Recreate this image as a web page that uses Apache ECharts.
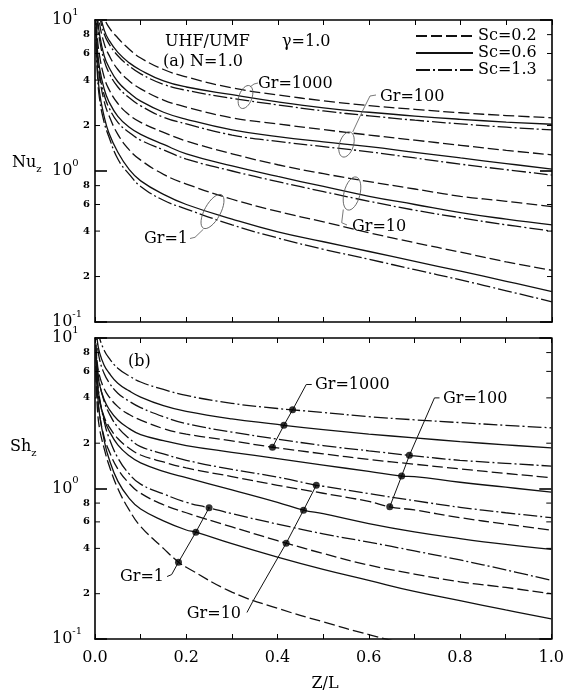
<!DOCTYPE html>
<html>
<head>
<meta charset="utf-8">
<script src="https://cdn.jsdelivr.net/npm/echarts@6/dist/echarts.min.js"></script>
<style>
  html, body { margin: 0; padding: 0; background: #fff; }
  #chart { width: 567px; height: 696px; }
</style>
</head>
<body>
<div id="chart"></div>
<script>
// axial position Z/L shared by every curve
const zl = [0.002, 0.005, 0.01, 0.02, 0.03, 0.05, 0.075, 0.1, 0.15, 0.2, 0.3, 0.4, 0.5, 0.6, 0.7, 0.8, 0.9, 1.0];

// (a) local Nusselt number
const nuGr1000Sc02 = [30, 19, 14, 10.5, 9.0, 7.6, 6.4, 5.6, 4.7, 4.2, 3.55, 3.19, 2.92, 2.71, 2.56, 2.43, 2.33, 2.25];
const nuGr1000Sc06 = [24, 16, 11.5, 8.6, 7.4, 6.1, 5.2, 4.65, 3.95, 3.6, 3.2, 2.87, 2.62, 2.45, 2.31, 2.2, 2.11, 2.04];
const nuGr1000Sc13 = [22, 15, 10.8, 8.1, 7.0, 5.8, 4.95, 4.4, 3.75, 3.42, 3.03, 2.74, 2.5, 2.32, 2.17, 2.05, 1.95, 1.87];
const nuGr100Sc02 = [19, 13, 9.5, 7.0, 5.9, 4.7, 3.95, 3.5, 2.95, 2.65, 2.25, 2.05, 1.88, 1.73, 1.6, 1.48, 1.37, 1.28];
const nuGr100Sc06 = [16, 11, 8.0, 5.8, 4.9, 3.9, 3.3, 2.9, 2.45, 2.2, 1.87, 1.69, 1.56, 1.45, 1.33, 1.22, 1.12, 1.03];
const nuGr100Sc13 = [15, 10, 7.4, 5.4, 4.5, 3.6, 3.05, 2.7, 2.27, 2.05, 1.73, 1.57, 1.45, 1.34, 1.22, 1.11, 1.02, 0.94];
const nuGr10Sc02 = [12, 7.8, 5.8, 4.2, 3.5, 2.8, 2.35, 2.1, 1.8, 1.58, 1.3, 1.1, 0.96, 0.85, 0.76, 0.68, 0.63, 0.58];
const nuGr10Sc06 = [10, 6.5, 4.8, 3.5, 2.9, 2.3, 1.95, 1.75, 1.5, 1.3, 1.08, 0.92, 0.79, 0.68, 0.6, 0.53, 0.48, 0.44];
const nuGr10Sc13 = [9, 6.0, 4.4, 3.2, 2.65, 2.1, 1.8, 1.6, 1.38, 1.2, 1.0, 0.85, 0.73, 0.63, 0.55, 0.49, 0.44, 0.40];
const nuGr1Sc02 = [9, 6.0, 4.2, 2.9, 2.35, 1.75, 1.38, 1.18, 0.95, 0.82, 0.65, 0.54, 0.46, 0.39, 0.335, 0.29, 0.25, 0.22];
const nuGr1Sc06 = [7.5, 5.0, 3.3, 2.3, 1.8, 1.33, 1.02, 0.86, 0.7, 0.6, 0.48, 0.395, 0.34, 0.293, 0.252, 0.217, 0.186, 0.159];
const nuGr1Sc13 = [7, 4.5, 3.0, 2.1, 1.7, 1.2, 0.95, 0.79, 0.64, 0.56, 0.44, 0.36, 0.303, 0.26, 0.222, 0.19, 0.161, 0.136];

// (b) local Sherwood number
const shGr1000Sc13 = [16, 12, 10, 8.3, 7.4, 6.3, 5.6, 5.1, 4.55, 4.15, 3.68, 3.4, 3.2, 3.0, 2.86, 2.74, 2.63, 2.53];
const shGr1000Sc06 = [13, 9.6, 8.0, 6.6, 5.9, 5.0, 4.45, 4.05, 3.55, 3.25, 2.9, 2.67, 2.46, 2.3, 2.17, 2.05, 1.95, 1.86];
const shGr1000Sc02 = [9, 6.8, 5.6, 4.6, 4.1, 3.5, 3.1, 2.85, 2.5, 2.3, 2.07, 1.86, 1.7, 1.56, 1.45, 1.35, 1.26, 1.18];
const shGr100Sc13 = [12, 9, 7.2, 5.8, 5.1, 4.3, 3.8, 3.45, 3.0, 2.7, 2.37, 2.13, 1.93, 1.78, 1.645, 1.54, 1.47, 1.41];
const shGr100Sc06 = [8.5, 6.0, 4.9, 3.9, 3.4, 2.85, 2.5, 2.28, 2.08, 1.93, 1.74, 1.58, 1.43, 1.3, 1.2, 1.1, 1.02, 0.945];
const shGr100Sc02 = [6.5, 4.8, 3.8, 3.0, 2.6, 2.15, 1.85, 1.67, 1.5, 1.37, 1.2, 1.05, 0.93, 0.82, 0.72, 0.64, 0.58, 0.528];
const shGr10Sc13 = [9, 6.5, 5.0, 3.8, 3.2, 2.55, 2.15, 1.9, 1.7, 1.54, 1.34, 1.19, 1.035, 0.925, 0.83, 0.75, 0.69, 0.64];
const shGr10Sc06 = [7.5, 5.2, 3.9, 2.9, 2.45, 1.95, 1.65, 1.48, 1.3, 1.18, 0.98, 0.81, 0.68, 0.585, 0.515, 0.465, 0.425, 0.394];
const shGr10Sc02 = [6, 4.2, 3.1, 2.2, 1.8, 1.35, 1.08, 0.93, 0.78, 0.69, 0.555, 0.45, 0.37, 0.31, 0.27, 0.24, 0.22, 0.2];
const shGr1Sc13 = [8, 5.5, 4.0, 2.8, 2.2, 1.6, 1.25, 1.07, 0.92, 0.81, 0.68, 0.58, 0.5, 0.44, 0.385, 0.335, 0.288, 0.245];
const shGr1Sc06 = [6.5, 4.5, 3.1, 2.1, 1.6, 1.12, 0.86, 0.73, 0.61, 0.53, 0.43, 0.35, 0.29, 0.245, 0.207, 0.18, 0.156, 0.136];
const shGr1Sc02 = [6, 3.5, 2.5, 1.85, 1.45, 1.0, 0.72, 0.56, 0.4, 0.3, 0.205, 0.16, 0.13, 0.107, 0.09, 0.077, 0.067, 0.059];

// marked points in (b), ordered Sc=0.2, 0.6, 1.3
const shDotsGr1000 = [[0.389, 1.88], [0.414, 2.63], [0.433, 3.33]];
const shDotsGr100 = [[0.646, 0.755], [0.672, 1.21], [0.689, 1.66]];
const shDotsGr10 = [[0.419, 0.433], [0.457, 0.718], [0.485, 1.05]];
const shDotsGr1 = [[0.183, 0.324], [0.221, 0.513], [0.25, 0.744]];

// minor tick values on the log axes
const minorTicks = [0.2, 0.4, 0.6, 0.8, 2, 4, 6, 8];
const minorTickLabels = ['2', '4', '6', '8', '2', '4', '6', '8'];

const serif = '"DejaVu Serif", "Liberation Serif", serif';
const dash = { 'Sc=0.2': [11, 4], 'Sc=0.6': 'solid', 'Sc=1.3': [14, 3, 2, 3] };

function curve(name, ys, panel, dot) {
  let pts = zl.map((x, i) => [x, ys[i]]);
  if (dot) pts = pts.concat([dot]).sort((a, b) => a[0] - b[0]);
  return {
    type: 'line', name, xAxisIndex: panel * 2, yAxisIndex: panel * 2,
    data: pts, symbol: 'none', showSymbol: false, smooth: 0.45,
    clip: true, silent: true, z: 3,
    itemStyle: { color: '#111' },
    lineStyle: { color: '#111', width: 1.3, type: dash[name] }
  };
}

const series = [
  curve('Sc=0.2', nuGr1000Sc02, 0), curve('Sc=0.6', nuGr1000Sc06, 0), curve('Sc=1.3', nuGr1000Sc13, 0),
  curve('Sc=0.2', nuGr100Sc02, 0), curve('Sc=0.6', nuGr100Sc06, 0), curve('Sc=1.3', nuGr100Sc13, 0),
  curve('Sc=0.2', nuGr10Sc02, 0), curve('Sc=0.6', nuGr10Sc06, 0), curve('Sc=1.3', nuGr10Sc13, 0),
  curve('Sc=0.2', nuGr1Sc02, 0), curve('Sc=0.6', nuGr1Sc06, 0), curve('Sc=1.3', nuGr1Sc13, 0),
  curve('Sc=0.2', shGr1000Sc02, 1, shDotsGr1000[0]), curve('Sc=0.6', shGr1000Sc06, 1, shDotsGr1000[1]), curve('Sc=1.3', shGr1000Sc13, 1, shDotsGr1000[2]),
  curve('Sc=0.2', shGr100Sc02, 1, shDotsGr100[0]), curve('Sc=0.6', shGr100Sc06, 1, shDotsGr100[1]), curve('Sc=1.3', shGr100Sc13, 1, shDotsGr100[2]),
  curve('Sc=0.2', shGr10Sc02, 1, shDotsGr10[0]), curve('Sc=0.6', shGr10Sc06, 1, shDotsGr10[1]), curve('Sc=1.3', shGr10Sc13, 1, shDotsGr10[2]),
  curve('Sc=0.2', shGr1Sc02, 1, shDotsGr1[0]), curve('Sc=0.6', shGr1Sc06, 1, shDotsGr1[1]), curve('Sc=1.3', shGr1Sc13, 1, shDotsGr1[2])
];

// leader lines through the marked points, running out to each Gr label
const leaderEnds = {
  g1000: [[0.463, 4.91], [0.475, 4.91]],
  g100: [[0.744, 4.0], [0.755, 4.0]],
  g10: [[0.346, 0.178], [0.333, 0.15]],
  g1: [[0.168, 0.268], [0.158, 0.26]]
};
const leaders = [
  shDotsGr1000.concat(leaderEnds.g1000),
  shDotsGr100.concat(leaderEnds.g100),
  shDotsGr10.slice().reverse().concat(leaderEnds.g10),
  shDotsGr1.slice().reverse().concat(leaderEnds.g1)
];
leaders.forEach(pts => series.push({
  type: 'line', name: 'leader', xAxisIndex: 2, yAxisIndex: 2, data: pts,
  symbol: 'none', silent: true, z: 4, lineStyle: { color: '#111', width: 1 }
}));
series.push({
  type: 'scatter', name: 'marks', xAxisIndex: 2, yAxisIndex: 2,
  data: [].concat(shDotsGr1000, shDotsGr100, shDotsGr10, shDotsGr1),
  symbol: 'circle', symbolSize: 7, itemStyle: { color: '#000' }, silent: true, z: 5
});

// minor ticks (2,4,6,8) on both vertical sides, with small labels on the left
[0, 1].forEach(p => series.push({
  type: 'custom', name: 'minor', xAxisIndex: p * 2, yAxisIndex: p * 2, silent: true, z: 6,
  data: minorTicks.map((v, i) => [0, v, i]),
  renderItem(params, api) {
    const v = api.value(1);
    const l = api.coord([0, v]);
    const r = api.coord([1, v]);
    return {
      type: 'group', children: [
        { type: 'line', shape: { x1: l[0], y1: l[1], x2: l[0] + 5, y2: l[1] }, style: { stroke: '#000', lineWidth: 1 } },
        { type: 'line', shape: { x1: r[0] - 5, y1: r[1], x2: r[0], y2: r[1] }, style: { stroke: '#000', lineWidth: 1 } },
        { type: 'text', x: l[0] - 5, y: l[1], style: { text: minorTickLabels[api.value(2)], align: 'right', verticalAlign: 'middle', font: 'bold 10px ' + serif, fill: '#000' } }
      ]
    };
  }
}));

const axisLine = { show: true, onZero: false, lineStyle: { color: '#000', width: 1.6 } };

function xAx(grid, pos, labels) {
  return {
    gridIndex: grid, type: 'value', position: pos, min: 0, max: 1, interval: 0.1,
    axisLine, splitLine: { show: false },
    axisTick: { show: true, inside: true, length: 5, lineStyle: { color: '#000', width: 1 } },
    axisLabel: {
      show: labels, margin: 11, color: '#000', fontFamily: serif, fontSize: 16,
      formatter: v => (Math.round(v * 10) % 2 === 0 ? v.toFixed(1) : '')
    }
  };
}
function yAx(grid, pos, labels) {
  return {
    gridIndex: grid, type: 'log', logBase: 10, position: pos, min: 0.1, max: 10,
    axisLine, splitLine: { show: false }, minorTick: { show: false },
    axisTick: { show: true, inside: true, length: 12, lineStyle: { color: '#000', width: 1.6 } },
    axisLabel: {
      show: labels, align: 'left', margin: 43, color: '#000',
      formatter: v => '{b|10}{s|' + Math.round(Math.log10(v)) + '}',
      rich: {
        b: { fontFamily: serif, fontSize: 16, lineHeight: 26, color: '#000' },
        s: { fontFamily: serif, fontSize: 10, lineHeight: 12, verticalAlign: 'top', color: '#000' }
      }
    }
  };
}

const font16 = '16px ' + serif;
function txt(text, x, y, align) {
  return { type: 'text', x, y, silent: true, z: 10, style: { text, fill: '#000', font: font16, align: align || 'left', verticalAlign: 'middle' } };
}
function ring(cx, cy, rx, ry, rot) {
  return { type: 'ellipse', x: cx, y: cy, rotation: rot, silent: true, z: 10, shape: { cx: 0, cy: 0, rx, ry }, style: { fill: 'none', stroke: '#555', lineWidth: 0.8 } };
}
function hook(points) {
  return { type: 'polyline', silent: true, z: 10, shape: { points }, style: { fill: 'none', stroke: '#555', lineWidth: 0.8 } };
}
const subRich = {
  a: { fontFamily: serif, fontSize: 16, lineHeight: 22, color: '#000' },
  b: { fontFamily: serif, fontSize: 10, lineHeight: 12, verticalAlign: 'bottom', color: '#000' }
};

const chart = echarts.init(document.getElementById('chart'));
chart.setOption({
  animation: false,
  backgroundColor: '#fff',
  grid: [
    { left: 95, top: 20, width: 457, height: 302 },
    { left: 95, top: 338, width: 457, height: 301 }
  ],
  xAxis: [xAx(0, 'bottom', false), xAx(0, 'top', false), xAx(1, 'bottom', true), xAx(1, 'top', false)],
  yAxis: [yAx(0, 'left', true), yAx(0, 'right', false), yAx(1, 'left', true), yAx(1, 'right', false)],
  legend: {
    data: ['Sc=0.2', 'Sc=0.6', 'Sc=1.3'], orient: 'vertical', left: 415, top: 28,
    itemWidth: 57, itemHeight: 10, itemGap: 1, padding: 0, selectedMode: false,
    itemStyle: { opacity: 0 },
    textStyle: { fontFamily: serif, fontSize: 16, color: '#000', lineHeight: 16 }
  },
  graphic: [
    txt('UHF/UMF', 165, 42), txt('γ=1.0', 282, 42), txt('(a) N=1.0', 163, 62),
    txt('Gr=1000', 258, 84), txt('Gr=100', 380, 97), txt('Gr=10', 352, 227), txt('Gr=1', 188, 239, 'right'),
    txt('(b)', 128, 362),
    txt('Gr=1000', 315, 385), txt('Gr=100', 443, 399), txt('Gr=10', 241, 614, 'right'), txt('Gr=1', 164, 577, 'right'),
    txt('Z/L', 325, 684, 'center'),
    { type: 'text', x: 12, y: 163, silent: true, style: { text: '{a|Nu}{b|z}', rich: subRich, verticalAlign: 'middle' } },
    { type: 'text', x: 10, y: 447, silent: true, style: { text: '{a|Sh}{b|z}', rich: subRich, verticalAlign: 'middle' } },
    ring(245.5, 97, 6.5, 12, -0.35), hook([[250, 87], [254, 84], [258, 83]]),
    ring(346.5, 144.5, 7, 13, -0.3), hook([[352.7, 132], [363, 110], [370, 96], [376, 95]]),
    ring(352, 193.5, 8, 17, -0.25), hook([[343.3, 209.5], [341.7, 222.7], [347, 225]]),
    ring(212.5, 211.5, 8, 19, -0.5), hook([[203.3, 229.3], [195, 237.3], [190, 238.5]])
  ],
  series
});
</script>
</body>
</html>
